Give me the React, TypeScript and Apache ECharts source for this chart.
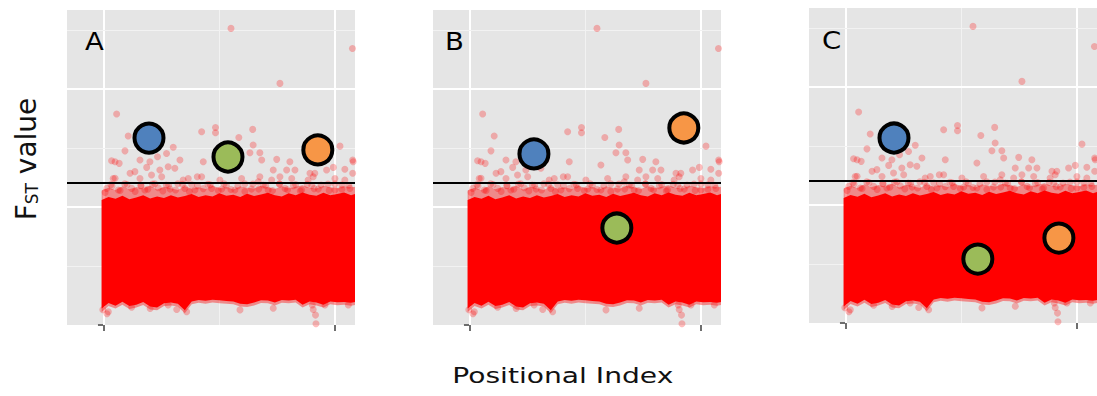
import React, { useEffect, useRef } from 'react';
import * as echarts from 'echarts';

// ---------- data ----------
const panelNames = ['A', 'B', 'C'];
const xTicks = [0, 100];
const xMinorGrid = [50];
const yTicks = [0, 5, 10];
const yMinorGrid = [2.5, 7.5, 12.5];
const threshold = 6.02;

// dense band of red points (envelopes)
const bandX = [-1, 2, 5, 8, 11, 14, 17, 20, 23, 26, 29, 32, 35, 38, 41, 44, 47, 50, 53, 56, 59, 62, 65, 68, 71, 74, 77, 80, 83, 86, 89, 92, 95, 98, 101, 104, 107, 108.7];
const bandLow = [0.7, 0.93, 0.82, 0.99, 0.8, 0.86, 0.98, 0.78, 0.74, 0.92, 0.95, 0.9, 0.62, 1.0, 1.06, 1.03, 1.07, 1.05, 1.02, 1.0, 0.9, 0.88, 0.95, 1.05, 1.04, 0.95, 1.06, 1.04, 1.07, 0.86, 1.0, 0.95, 0.86, 1.0, 0.96, 0.98, 0.94, 0.97];
const bandTop = [5.3, 5.42, 5.35, 5.48, 5.33, 5.4, 5.5, 5.36, 5.45, 5.38, 5.5, 5.4, 5.47, 5.55, 5.42, 5.5, 5.45, 5.58, 5.48, 5.52, 5.43, 5.56, 5.47, 5.53, 5.6, 5.5, 5.45, 5.58, 5.5, 5.62, 5.52, 5.48, 5.6, 5.5, 5.55, 5.62, 5.5, 5.55];
const hazeLow = [0.55, 0.8, 0.7, 0.86, 0.68, 0.74, 0.85, 0.66, 0.62, 0.8, 0.83, 0.78, 0.5, 0.88, 0.94, 0.9, 0.95, 0.92, 0.9, 0.88, 0.78, 0.76, 0.83, 0.93, 0.92, 0.83, 0.94, 0.92, 0.95, 0.74, 0.88, 0.83, 0.74, 0.88, 0.84, 0.86, 0.82, 0.85];
const hazeTop = [5.7, 5.82, 5.72, 5.88, 5.75, 5.85, 5.78, 5.9, 5.74, 5.86, 5.8, 5.72, 5.88, 5.78, 5.84, 5.76, 5.9, 5.8, 5.86, 5.74, 5.88, 5.82, 5.78, 5.9, 5.84, 5.76, 5.88, 5.8, 5.86, 5.92, 5.82, 5.78, 5.9, 5.84, 5.8, 5.88, 5.84, 5.86];

// individual translucent points (outliers and the loose top of the band)
const pointX = [
  55.0, 107.6, 76.2, 5.5, 42.3, 48.3, 48.3, 64.4, 10.5, 58.4, 64.6, 30.0, 102.2, 9.1, 63.2, 67.5, 27.1, 23.2,
  3.3, 4.8, 6.6, 19.9, 18.5, 43.0, 68.3, 74.8, 80.5, 82.7, 73.3, 107.9, 104.3, 99.3, 11.3, 13.4, 15.6, 24.2,
  30.7, 36.5, 40.4, 50.2, 59.6, 56.7, 67.5, 76.2, 90.6, 96.4, 4.0, 4.8, 20.6, 25.0, 34.3, 42.3, 66.8, 72.6,
  81.3, 88.4, 100.0, 104.3, 79.1, 107.7, 107.7, 89.2, 91.3, 32.9, 27.8, 15.6,
  1.2, 6.2, 12, 17.7, 23.5, 28.6, 35, 39.4, 46.6, 51, 56.7, 63.9, 71.1, 78.4, 85.6, 92.8, 100, 106.5,
  3, 9, 16, 21, 27, 32, 38, 45, 53, 61, 69, 76, 83, 90, 97, 103,
  0.5, 3.5, 7, 10, 13.5, 16, 19, 22, 25.5, 28, 31, 34, 37, 40.5, 43, 46, 49.5, 52, 55, 58, 61, 64.5, 67, 70,
  73, 76, 79.5, 82, 85, 88, 91, 94, 97.5, 100, 103, 106,
  1.9, 1.3, 27.8, 31.5, 35.8, 58.9, 73.3, 90.2, 90.6, 91.6, 91.8, 95.7, 105.8, -0.5, 12, 20,
];
const pointY = [
  12.57, 11.72, 10.24, 8.94, 8.19, 8.37, 8.15, 8.29, 8.01, 7.95, 7.63, 7.53, 7.58, 7.38, 7.30, 7.30, 7.27, 7.13,
  6.96, 6.92, 6.85, 6.92, 6.68, 6.92, 6.99, 7.02, 6.92, 6.57, 6.57, 6.92, 6.60, 6.68, 6.43, 6.50, 6.21, 6.57,
  6.64, 6.21, 6.28, 6.14, 6.21, 6.78, 6.28, 6.28, 6.28, 6.57, 6.21, 6.22, 6.36, 6.28, 6.14, 6.28, 6.07, 6.14,
  6.21, 6.14, 6.21, 6.14, 6.57, 6.99, 6.43, 6.43, 6.43, 6.99, 6.71, 6.99,
  5.79, 5.72, 5.79, 5.72, 5.82, 5.76, 5.79, 5.72, 5.79, 5.76, 5.72, 5.76, 5.72, 5.79, 5.72, 5.76, 5.72, 5.79,
  5.95, 5.98, 5.92, 5.97, 5.93, 5.99, 5.94, 5.96, 5.92, 5.98, 5.93, 5.97, 5.95, 5.92, 5.97, 5.94,
  5.62, 5.88, 5.7, 5.95, 5.66, 5.9, 5.75, 5.98, 5.68, 5.92, 5.72, 5.96, 5.65, 5.9, 5.78, 5.94, 5.7, 5.99, 5.74, 5.9, 5.66, 5.97, 5.76, 5.92,
  5.7, 5.99, 5.73, 5.9, 5.68, 5.96, 5.78, 5.93, 5.7, 5.98, 5.75, 5.92,
  0.56, 0.48, 0.85, 0.66, 0.56, 0.64, 0.71, 0.85, 0.66, 0.42, 0.05, 0.85, 0.85, 0.65, 0.75, 0.7,
];

// highlighted loci: blue, green, orange
const circleColors = ['#4F81BD', '#9BBB59', '#F79646'];
const circleXA = [19.5, 53.7, 92.6];
const circleYA = [7.92, 7.12, 7.42];
const circleXB = [27.7, 63.6, 92.6];
const circleYB = [7.25, 4.11, 8.35];
const circleXC = [20.8, 57.1, 92.2];
const circleYC = [7.84, 2.71, 3.6];
const circleX = [circleXA, circleXB, circleXC];
const circleY = [circleYA, circleYB, circleYC];

const xTitle = 'Positional Index';

// ---------- layout ----------
const FONT = 'DejaVu Sans';
const gridLefts = [67, 433, 809];
const gridTops = [10, 10, 8];
const GRID_W = 288;
const GRID_H = 315;
const labelPos = [[85, 41.5], [445, 41.5], [822, 40]];

export default function App() {
  const ref = useRef<HTMLDivElement>(null);

  useEffect(() => {
    if (!ref.current) return;
    const chart = echarts.init(ref.current, null, { renderer: 'svg' });

    const grids: any[] = [];
    const xAxes: any[] = [];
    const yAxes: any[] = [];
    const series: any[] = [];
    const graphics: any[] = [];

    for (let i = 0; i < 3; i++) {
      grids.push({
        left: gridLefts[i], top: gridTops[i], width: GRID_W, height: GRID_H,
        show: true, backgroundColor: '#E5E5E5', borderWidth: 0, containLabel: false,
      });
      xAxes.push({
        gridIndex: i, type: 'value', min: -16, max: 108.7,
        axisLine: { show: false },
        axisTick: { show: true, customValues: xTicks, length: 6, lineStyle: { color: '#6e6e6e', width: 2 } },
        axisLabel: { show: false },
        splitLine: { show: false },
      });
      yAxes.push({
        gridIndex: i, type: 'value', min: 0, max: 13.35,
        axisLine: { show: false },
        axisTick: { show: true, customValues: yTicks, length: 6, lineStyle: { color: '#6e6e6e', width: 2 } },
        axisLabel: { show: false },
        splitLine: { show: false },
      });

      const majorStyle = { color: '#FFFFFF', width: 2, type: 'solid' };
      const minorStyle = { color: '#F2F2F2', width: 1, type: 'solid' };
      series.push({
        type: 'line', xAxisIndex: i, yAxisIndex: i, data: [], z: 1, silent: true,
        markLine: {
          z: 1, zlevel: 0,
          silent: true, symbol: ['none', 'none'], label: { show: false }, animation: false,
          data: [
            ...xTicks.map((v) => ({ xAxis: v, lineStyle: majorStyle })),
            ...xMinorGrid.map((v) => ({ xAxis: v, lineStyle: minorStyle })),
            ...yTicks.filter((v) => v > 0).map((v) => ({ yAxis: v, lineStyle: majorStyle })),
            ...yMinorGrid.map((v) => ({ yAxis: v, lineStyle: minorStyle })),
          ],
        },
      });

      series.push({
        type: 'custom', xAxisIndex: i, yAxisIndex: i, coordinateSystem: 'cartesian2d',
        data: [[0, 0]], z: 2, silent: true, clip: true,
        renderItem: (params: any, api: any) => {
          if (params.dataIndex !== 0) return null;
          const hTop = bandX.map((x, k) => api.coord([x, hazeTop[k]]));
          const hLow = bandX.map((x, k) => api.coord([x, hazeLow[k]])).reverse();
          const sTop = bandX.map((x, k) => api.coord([x, bandTop[k]]));
          const sLow = bandX.map((x, k) => api.coord([x, bandLow[k]])).reverse();
          return {
            type: 'group',
            children: [
              { type: 'polygon', shape: { points: [...hTop, ...hLow] }, style: { fill: 'rgba(255,0,0,0.4)' } },
              { type: 'polygon', shape: { points: [...sTop, ...sLow] }, style: { fill: '#FF0000' } },
            ],
          };
        },
      });

      series.push({
        type: 'scatter', xAxisIndex: i, yAxisIndex: i, z: 3, silent: true,
        symbolSize: 7,
        itemStyle: { color: 'rgba(255,0,0,0.33)' },
        data: pointX.map((x, k) => [x, pointY[k]]),
      });

      series.push({
        type: 'line', xAxisIndex: i, yAxisIndex: i, data: [], z: 4, silent: true,
        markLine: {
          z: 4,
          silent: true, symbol: ['none', 'none'], label: { show: false }, animation: false,
          lineStyle: { color: '#000', width: 2, type: 'solid' },
          data: [{ yAxis: threshold }],
        },
      });

      series.push({
        type: 'scatter', xAxisIndex: i, yAxisIndex: i, z: 5, silent: true,
        symbolSize: 29,
        itemStyle: { borderColor: '#000', borderWidth: 4, opacity: 1 },
        data: circleX[i].map((x, k) => ({ value: [x, circleY[i][k]], itemStyle: { color: circleColors[k] } })),
      });

      graphics.push({
        type: 'text', x: labelPos[i][0], y: labelPos[i][1], z: 10, scaleX: 1.1,
        style: {
          text: panelNames[i], fontSize: 25, fontFamily: FONT, fill: '#000',
          align: 'left', verticalAlign: 'middle', textAlign: 'left', textVerticalAlign: 'middle',
        },
      });
    }

    graphics.push({
      type: 'text', x: 562.8, y: 375.5, scaleX: 1.28, z: 10,
      style: {
        text: xTitle, fontSize: 22, fontFamily: FONT, fill: '#111',
        align: 'center', verticalAlign: 'middle', textAlign: 'center', textVerticalAlign: 'middle',
      },
    });
    graphics.push({
      type: 'text', x: 25, y: 159, rotation: Math.PI / 2, z: 10,
      style: {
        text: '{f|F}{s|ST}{v| value}',
        fill: '#111',
        align: 'center', verticalAlign: 'middle', textAlign: 'center', textVerticalAlign: 'middle',
        rich: {
          f: { fontSize: 28, fontFamily: FONT, fill: '#111', verticalAlign: 'bottom', lineHeight: 30 },
          s: { fontSize: 17, fontFamily: FONT, fill: '#111', verticalAlign: 'bottom', lineHeight: 22 },
          v: { fontSize: 28, fontFamily: FONT, fill: '#111', verticalAlign: 'bottom', lineHeight: 30 },
        },
      },
    });

    chart.setOption({
      animation: false,
      backgroundColor: '#FFFFFF',
      grid: grids,
      xAxis: xAxes,
      yAxis: yAxes,
      series,
      graphic: graphics,
    });

    return () => chart.dispose();
  }, []);

  return <div ref={ref} style={{ position: 'absolute', left: 0, top: 0, width: 1097, height: 396 }} />;
}
